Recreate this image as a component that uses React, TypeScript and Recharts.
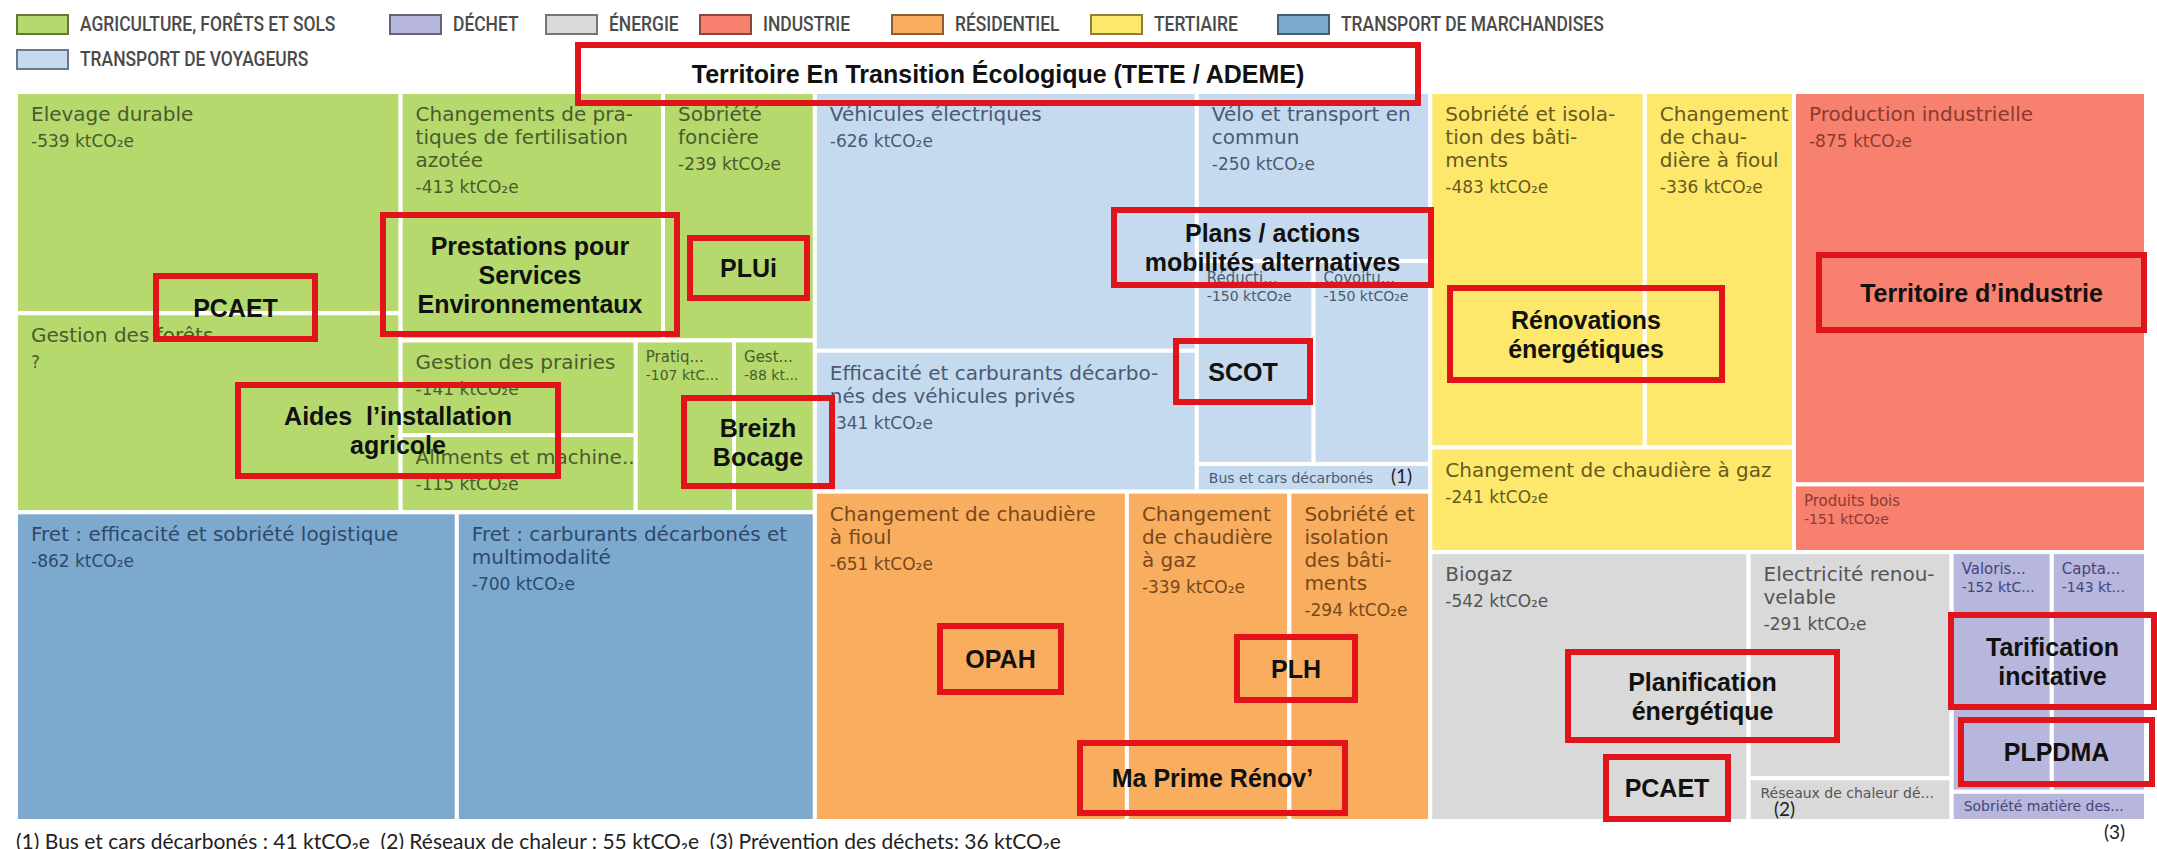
import React from 'react'
import { ComposedChart, XAxis, YAxis, ReferenceArea } from 'recharts'

const WIDTH = 2157
const HEIGHT = 849

// zone du treemap (en px, même repère que les axes)
const MAP_X0 = 16
const MAP_Y0 = 92
const MAP_X1 = 2146
const MAP_Y1 = 821

// secteurs, dans l'ordre de la légende
const sectorNames = [
  'AGRICULTURE, FORÊTS ET SOLS',
  'DÉCHET',
  'ÉNERGIE',
  'INDUSTRIE',
  'RÉSIDENTIEL',
  'TERTIAIRE',
  'TRANSPORT DE MARCHANDISES',
  'TRANSPORT DE VOYAGEURS',
]
const sectorFills = ['#b5d96c', '#b7b6dc', '#d9d9d9', '#f7806f', '#f9ae5f', '#fde86c', '#7ea9cf', '#c6daef']
const sectorInks = ['#4b5b2e', '#45457a', '#555555', '#8c3a30', '#77481b', '#665a1c', '#2d4a6a', '#4a5a72']

const AGRI = 0, DECHET = 1, ENERGIE = 2, INDUSTRIE = 3, RESID = 4, TERT = 5, FRET = 6, VOYA = 7

type Item = { name: string[]; value: number; label?: string }

// valeurs en ktCO2e (Gestion des forêts : '?' dans l'original, surface estimée)
const agriculture: Item[] = [
  { name: ['Elevage durable'], value: 539, label: '-539 ktCO₂e' },
  { name: ['Gestion des forêts'], value: 485, label: '?' },
  { name: ['Changements de pra-', 'tiques de fertilisation', 'azotée'], value: 413, label: '-413 ktCO₂e' },
  { name: ['Sobriété', 'foncière'], value: 239, label: '-239 ktCO₂e' },
  { name: ['Gestion des prairies'], value: 141, label: '-141 ktCO₂e' },
  { name: ['Aliments et machine...'], value: 115, label: '-115 ktCO₂e' },
  { name: ['Pratiq...'], value: 107, label: '-107 ktC...' },
  { name: ['Gest...'], value: 88, label: '-88 kt...' },
]

const fret: Item[] = [
  { name: ['Fret : efficacité et sobriété logistique'], value: 862, label: '-862 ktCO₂e' },
  { name: ['Fret : carburants décarbonés et', 'multimodalité'], value: 700, label: '-700 ktCO₂e' },
]

const voyageurs: Item[] = [
  { name: ['Véhicules électriques'], value: 626, label: '-626 ktCO₂e' },
  { name: ['Efficacité et carburants décarbo-', 'nés des véhicules privés'], value: 341, label: '-341 ktCO₂e' },
  { name: ['Vélo et transport en', 'commun'], value: 250, label: '-250 ktCO₂e' },
  { name: ['Réducti...'], value: 150, label: '-150 ktCO₂e' },
  { name: ['Covoitu...'], value: 150, label: '-150 ktCO₂e' },
  { name: ['Bus et cars décarbonés'], value: 41 },
]

const residentiel: Item[] = [
  { name: ['Changement de chaudière', 'à fioul'], value: 651, label: '-651 ktCO₂e' },
  { name: ['Changement', 'de chaudière', 'à gaz'], value: 339, label: '-339 ktCO₂e' },
  { name: ['Sobriété et', 'isolation', 'des bâti-', 'ments'], value: 294, label: '-294 ktCO₂e' },
]

const tertiaire: Item[] = [
  { name: ['Sobriété et isola-', 'tion des bâti-', 'ments'], value: 483, label: '-483 ktCO₂e' },
  { name: ['Changement', 'de chau-', 'dière à fioul'], value: 336, label: '-336 ktCO₂e' },
  { name: ['Changement de chaudière à gaz'], value: 241, label: '-241 ktCO₂e' },
]

const industrie: Item[] = [
  { name: ['Production industrielle'], value: 875, label: '-875 ktCO₂e' },
  { name: ['Produits bois'], value: 151, label: '-151 ktCO₂e' },
]

const energie: Item[] = [
  { name: ['Biogaz'], value: 542, label: '-542 ktCO₂e' },
  { name: ['Electricité renou-', 'velable'], value: 291, label: '-291 ktCO₂e' },
  { name: ['Réseaux de chaleur dé...'], value: 55 },
]

const dechet: Item[] = [
  { name: ['Valoris...'], value: 152, label: '-152 ktC...' },
  { name: ['Capta...'], value: 143, label: '-143 kt...' },
  { name: ['Sobriété matière des...'], value: 36 },
]

const footnote = '(1) Bus et cars décarbonés : 41 ktCO₂e  (2) Réseaux de chaleur : 55 ktCO₂e  (3) Prévention des déchets: 36 ktCO₂e'

// cadres rouges ajoutés sur l'image (x1, y1, x2, y2 en px)
const annotations = [
  { lines: ['Territoire En Transition Écologique (TETE / ADEME)'], box: [578, 45, 1418, 103] },
  { lines: ['PCAET'], box: [156, 276, 315, 339] },
  { lines: ['Prestations pour', 'Services', 'Environnementaux'], box: [383, 215, 677, 334] },
  { lines: ['PLUi'], box: [690, 238, 807, 298] },
  { lines: ['Aides  l’installation', 'agricole'], box: [238, 385, 558, 476] },
  { lines: ['Breizh', 'Bocage'], box: [684, 398, 832, 486] },
  { lines: ['Plans / actions', 'mobilités alternatives'], box: [1114, 210, 1431, 285] },
  { lines: ['SCOT'], box: [1176, 341, 1310, 402] },
  { lines: ['Rénovations', 'énergétiques'], box: [1450, 288, 1722, 380] },
  { lines: ['Territoire d’industrie'], box: [1819, 255, 2144, 330] },
  { lines: ['OPAH'], box: [940, 626, 1061, 692] },
  { lines: ['PLH'], box: [1237, 637, 1355, 700] },
  { lines: ['Ma Prime Rénov’'], box: [1080, 743, 1345, 813] },
  { lines: ['Planification', 'énergétique'], box: [1568, 652, 1837, 740] },
  { lines: ['PCAET'], box: [1606, 757, 1728, 819] },
  { lines: ['Tarification', 'incitative'], box: [1951, 615, 2154, 707] },
  { lines: ['PLPDMA'], box: [1961, 720, 2152, 784] },
]

// renvois (1) (2) (3)
const markers = [
  { text: '(1)', x: 1391, y: 483 },
  { text: '(2)', x: 1774, y: 816 },
  { text: '(3)', x: 2104, y: 839 },
]

const legendX = [16, 389, 545, 699, 891, 1090, 1277, 16]
const legendY = [14, 14, 14, 14, 14, 14, 14, 49]

// --- découpage du treemap (slice & dice à partir des valeurs) ---
type Leaf = { sector: number; item: Item }
type Group = { dir: 'h' | 'v'; kids: Node[] }
type Node = Leaf | Group

const row = (...kids: Node[]): Group => ({ dir: 'h', kids })
const col = (...kids: Node[]): Group => ({ dir: 'v', kids })
const pick = (sector: number, list: Item[]) => (i: number): Leaf => ({ sector, item: list[i] })

const A = pick(AGRI, agriculture)
const F = pick(FRET, fret)
const P = pick(VOYA, voyageurs)
const R = pick(RESID, residentiel)
const T = pick(TERT, tertiaire)
const I = pick(INDUSTRIE, industrie)
const E = pick(ENERGIE, energie)
const D = pick(DECHET, dechet)

const tree: Node = row(
  col(
    row(col(A(0), A(1)), col(row(A(2), A(3)), row(col(A(4), A(5)), A(6), A(7)))),
    row(F(0), F(1)),
  ),
  col(
    row(col(P(0), P(1)), col(P(2), row(P(3), P(4)), P(5))),
    row(R(0), R(1), R(2)),
  ),
  col(
    row(col(row(T(0), T(1)), T(2)), col(I(0), I(1))),
    row(row(E(0), col(E(1), E(2))), col(row(D(0), D(1)), D(2))),
  ),
)

type Cell = Leaf & { x1: number; y1: number; x2: number; y2: number }

const total = (n: Node): number =>
  'item' in n ? n.item.value : n.kids.reduce((s, k) => s + total(k), 0)

function layout(n: Node, x: number, y: number, w: number, h: number, out: Cell[]) {
  if ('item' in n) {
    out.push({ ...n, x1: x, y1: y, x2: x + w, y2: y + h })
    return
  }
  const t = total(n)
  let off = 0
  n.kids.forEach((k) => {
    const f = total(k) / t
    if (n.dir === 'h') layout(k, x + off * w, y, f * w, h, out)
    else layout(k, x, y + off * h, w, f * h, out)
    off += f
  })
}

const cells: Cell[] = []
layout(tree, MAP_X0, MAP_Y0, MAP_X1 - MAP_X0, MAP_Y1 - MAP_Y0, cells)

const cellFont = "'DejaVu Sans', 'Noto Sans', sans-serif"
const boxFont = "'Liberation Sans', Arial, sans-serif"

function cellShape(c: Cell) {
  return (p: any) => {
    const { x, y, width: w, height: h } = p
    const ink = sectorInks[c.sector]
    const lines = c.item.name
    let texts: React.ReactNode[] = []
    if (h < 50) {
      texts.push(
        <text key="n" x={x + 12} y={y + Math.min(h / 2 + 5, 20)} fontSize={14} fill={ink} fontFamily={cellFont}>
          {lines[0]}
        </text>,
      )
    } else {
      const small = w < 135 || h < 70
      const size = small ? 15 : 20
      const lh = small ? 17 : 23
      const first = small ? 22 : 29
      const pad = small ? 10 : 15
      texts = lines.map((l, i) => (
        <text key={i} x={x + pad} y={y + first + i * lh} fontSize={size} fill={ink} fontFamily={cellFont}>
          {l}
        </text>
      ))
      if (c.item.label) {
        texts.push(
          <text
            key="v"
            x={x + pad}
            y={y + first + (lines.length - 1) * lh + (small ? 18 : 26)}
            fontSize={small ? 14 : 17}
            fill={ink}
            fontFamily={cellFont}
          >
            {c.item.label}
          </text>,
        )
      }
    }
    return (
      <g>
        <rect x={x} y={y} width={w} height={h} fill={sectorFills[c.sector]} stroke="#ffffff" strokeWidth={4} />
        {texts}
      </g>
    )
  }
}

function boxShape(lines: string[]) {
  return (p: any) => {
    const { x, y, width: w, height: h } = p
    const cx = x + w / 2
    const cy = y + h / 2
    const lh = 29
    const top = cy - ((lines.length - 1) * lh) / 2
    return (
      <g>
        <rect x={x} y={y} width={w} height={h} fill="none" stroke="#e2141b" strokeWidth={6} />
        {lines.map((l, i) => (
          <text
            key={i}
            x={cx}
            y={top + i * lh + 9}
            textAnchor="middle"
            fontSize={25}
            fontWeight="bold"
            fill="#111"
            fontFamily={boxFont}
            xmlSpace="preserve"
          >
            {l}
          </text>
        ))}
      </g>
    )
  }
}

function LegendBlock() {
  return (
    <>
      {sectorNames.map((s, i) => (
        <div
          key={s}
          style={{
            position: 'absolute',
            left: legendX[i],
            top: legendY[i],
            height: 20,
            display: 'flex',
            alignItems: 'center',
            whiteSpace: 'nowrap',
          }}
        >
          <div
            style={{
              width: 49,
              height: 17,
              background: sectorFills[i],
              border: '2px solid rgba(0,0,0,0.45)',
              marginRight: 11,
            }}
          />
          <span
            style={{
              display: 'inline-block',
              fontFamily: 'Roboto, sans-serif',
              fontSize: 21,
              fontWeight: 500,
              color: '#4a4a4a',
              transform: 'scaleX(0.83)',
              transformOrigin: 'left center',
            }}
          >
            {s}
          </span>
        </div>
      ))}
    </>
  )
}

export default function App() {
  return (
    <div
      style={{
        position: 'absolute',
        left: 0,
        top: 0,
        width: WIDTH,
        height: HEIGHT,
        background: '#ffffff',
        overflow: 'hidden',
      }}
    >
      <div style={{ position: 'absolute', left: 0, top: 0 }}>
        <ComposedChart width={WIDTH} height={HEIGHT} margin={{ top: 0, right: 0, bottom: 0, left: 0 }}>
          <XAxis type="number" dataKey="x" domain={[0, WIDTH]} hide allowDataOverflow />
          <YAxis type="number" dataKey="y" domain={[0, HEIGHT]} hide reversed allowDataOverflow />
          {cells.map((c, i) => (
            <ReferenceArea
              key={'c' + i}
              x1={c.x1}
              x2={c.x2}
              y1={c.y1}
              y2={c.y2}
              ifOverflow="visible"
              shape={cellShape(c)}
            />
          ))}
          {annotations.map((a, i) => (
            <ReferenceArea
              key={'a' + i}
              x1={a.box[0]}
              x2={a.box[2]}
              y1={a.box[1]}
              y2={a.box[3]}
              ifOverflow="visible"
              shape={boxShape(a.lines)}
            />
          ))}
        </ComposedChart>
      </div>
      <LegendBlock />
      <svg width={WIDTH} height={HEIGHT} style={{ position: 'absolute', left: 0, top: 0, pointerEvents: 'none' }}>
        {markers.map((m) => (
          <text key={m.text} x={m.x} y={m.y} fontSize={19} fill="#222" fontFamily="Lato, sans-serif">
            {m.text}
          </text>
        ))}
        <text x={16} y={849} fontSize={21} fill="#222" fontFamily="Lato, sans-serif" xmlSpace="preserve">
          {footnote}
        </text>
      </svg>
    </div>
  )
}
